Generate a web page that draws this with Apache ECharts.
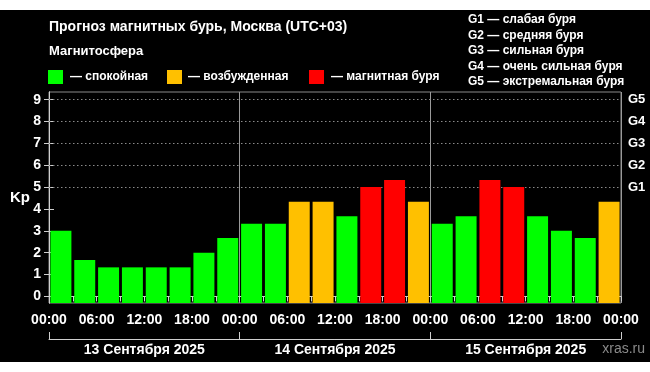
<!DOCTYPE html>
<html><head><meta charset="utf-8">
<script src="https://cdn.jsdelivr.net/npm/echarts@6/dist/echarts.min.js"></script>
<style>
html,body{margin:0;padding:0;background:#fff;}
#band{position:absolute;left:0;top:10px;width:650px;height:352px;background:#000;}
#c{position:absolute;left:0;top:0;width:650px;height:372px;}
</style></head>
<body>
<div id="band"></div>
<div id="c"></div>
<script>
// ---- data ----
const days = ['13 Сентября 2025', '14 Сентября 2025', '15 Сентября 2025'];
const slotNames = ['00–03', '03–06', '06–09', '09–12', '12–15', '15–18', '18–21', '21–24'];
const kpDay13 = [3.00, 1.67, 1.33, 1.33, 1.33, 1.33, 2.00, 2.67];
const kpDay14 = [3.33, 3.33, 4.33, 4.33, 3.67, 5.00, 5.33, 4.33];
const kpDay15 = [3.33, 3.67, 5.33, 5.00, 3.67, 3.00, 2.67, 4.33];
const hourLabels = ['00:00', '06:00', '12:00', '18:00', '00:00', '06:00', '12:00', '18:00', '00:00', '06:00', '12:00', '18:00', '00:00'];
const kpTickValues = [0, 1, 2, 3, 4, 5, 6, 7, 8, 9];
const kpTicks = ['0', '1', '2', '3', '4', '5', '6', '7', '8', '9'];
const gTickValues = [5, 6, 7, 8, 9];
const gTicks = ['G1', 'G2', 'G3', 'G4', 'G5'];
const gridLevels = [5, 6, 7, 8, 9];
const legendItems = ['— спокойная', '— возбужденная', '— магнитная буря'];
const gLegend = ['G1 — слабая буря', 'G2 — средняя буря', 'G3 — сильная буря', 'G4 — очень сильная буря', 'G5 — экстремальная буря'];
const titleText = 'Прогноз магнитных бурь, Москва (UTC+03)';
const subTitle = 'Магнитосфера';

// ---- build ----
const FONT = '"Liberation Sans", Arial, sans-serif';
const GREEN = '#00ff00', ORANGE = '#ffc000', RED = '#ff0000';
const slots = [];
days.forEach(d => slotNames.forEach(s => slots.push(d + ' ' + s)));
const kpAll = kpDay13.concat(kpDay14, kpDay15);
function colorOf(v) { return v >= 5 ? RED : (v >= 4 ? ORANGE : GREEN); }

const chart = echarts.init(document.getElementById('c'), null, { renderer: 'canvas' });
const axisGray = '#cfcfcf';
const txt = (x, y, s, size, opt) => Object.assign({
  type: 'text', x: x, y: y, z: 100,
  style: { text: s, fill: '#fff', font: 'bold ' + size + 'px ' + FONT, textVerticalAlign: 'middle', verticalAlign: 'middle' }
}, opt || {});

const graphics = [
  txt(49, 27, titleText, 14),
  txt(49, 51, subTitle, 13),
  { type: 'rect', shape: { x: 48, y: 70, width: 15, height: 14 }, style: { fill: GREEN }, z: 100 },
  txt(70, 77, legendItems[0], 12),
  { type: 'rect', shape: { x: 167, y: 70, width: 15, height: 14 }, style: { fill: ORANGE }, z: 100 },
  txt(188, 77, legendItems[1], 12),
  { type: 'rect', shape: { x: 309, y: 70, width: 15, height: 14 }, style: { fill: RED }, z: 100 },
  txt(331, 77, legendItems[2], 12),
  txt(10, 198, 'Kp', 15),
  { type: 'text', x: 645, y: 349, z: 100, style: { text: 'xras.ru', fill: '#8a8a8a', font: '14px ' + FONT, align: 'right', textAlign: 'right', verticalAlign: 'middle', textVerticalAlign: 'middle' } }
];
gLegend.forEach((s, i) => graphics.push(txt(468, 20 + i * 15.5, s, 12)));

const option = {
  backgroundColor: 'transparent',
  animation: false,
  graphic: graphics,
  grid: { left: 49, right: 29, top: 92, bottom: 69, show: true, borderColor: '#8a8a8a', borderWidth: 1, backgroundColor: 'transparent' },
  xAxis: [
    { type: 'category', data: slots, show: false, boundaryGap: true },
    {
      type: 'value', min: 0, max: 24, interval: 1, position: 'bottom',
      axisLine: { show: true, lineStyle: { color: axisGray, width: 1 } },
      axisTick: { show: true, length: 5, lineStyle: { color: axisGray } },
      splitLine: { show: false },
      axisLabel: {
        color: '#fff', fontFamily: FONT, fontWeight: 'bold', fontSize: 14, margin: 10,
        formatter: v => (v % 2 === 0 ? hourLabels[v / 2] : ''), showMinLabel: true, showMaxLabel: true, hideOverlap: false
      }
    },
    {
      type: 'value', min: 0, max: 3, interval: 1, position: 'bottom',
      axisLine: { show: false }, axisTick: { show: false }, axisLabel: { show: false },
      splitLine: { show: true, lineStyle: { color: '#9a9a9a', width: 1 } }
    },
    {
      type: 'category', data: days, position: 'bottom', offset: 36, boundaryGap: true,
      axisLine: { show: true, lineStyle: { color: axisGray, width: 1 } },
      axisTick: { show: true, inside: true, length: 7, lineStyle: { color: axisGray } },
      axisLabel: { color: '#fff', fontFamily: FONT, fontWeight: 'bold', fontSize: 14, margin: 4 }
    }
  ],
  yAxis: [
    {
      type: 'value', min: -0.3, max: 9.35, startValue: -0.3, position: 'left',
      axisLine: { show: true, lineStyle: { color: axisGray, width: 1 } },
      axisTick: { show: true, length: 5, customValues: kpTickValues, lineStyle: { color: axisGray } },
      splitLine: { show: false },
      axisLabel: {
        color: '#fff', fontFamily: FONT, fontWeight: 'bold', fontSize: 14, margin: 8,
        customValues: kpTickValues,
        formatter: v => kpTicks[kpTickValues.indexOf(Math.round(v))]
      }
    },
    {
      type: 'value', min: -0.3, max: 9.35, position: 'right',
      axisLine: { show: true, lineStyle: { color: axisGray, width: 1 } },
      axisTick: { show: true, length: 5, customValues: kpTickValues, lineStyle: { color: axisGray } },
      splitLine: { show: false },
      axisLabel: {
        color: '#fff', fontFamily: FONT, fontWeight: 'bold', fontSize: 13, margin: 7,
        customValues: gTickValues,
        formatter: v => gTicks[gTickValues.indexOf(Math.round(v))]
      }
    }
  ],
  series: [
    {
      type: 'bar', xAxisIndex: 0, yAxisIndex: 0, barCategoryGap: '12%', z: 2,
      data: kpAll.map(v => ({ value: v, itemStyle: { color: colorOf(v) } })),
      markLine: {
        z: 1, silent: true, symbol: ['none', 'none'], label: { show: false },
        lineStyle: { color: '#8a8a8a', type: [1.5, 2.5], width: 1 },
        data: gridLevels.map(l => ({ yAxis: l }))
      }
    }
  ]
};
chart.setOption(option);
</script>
</body></html>
